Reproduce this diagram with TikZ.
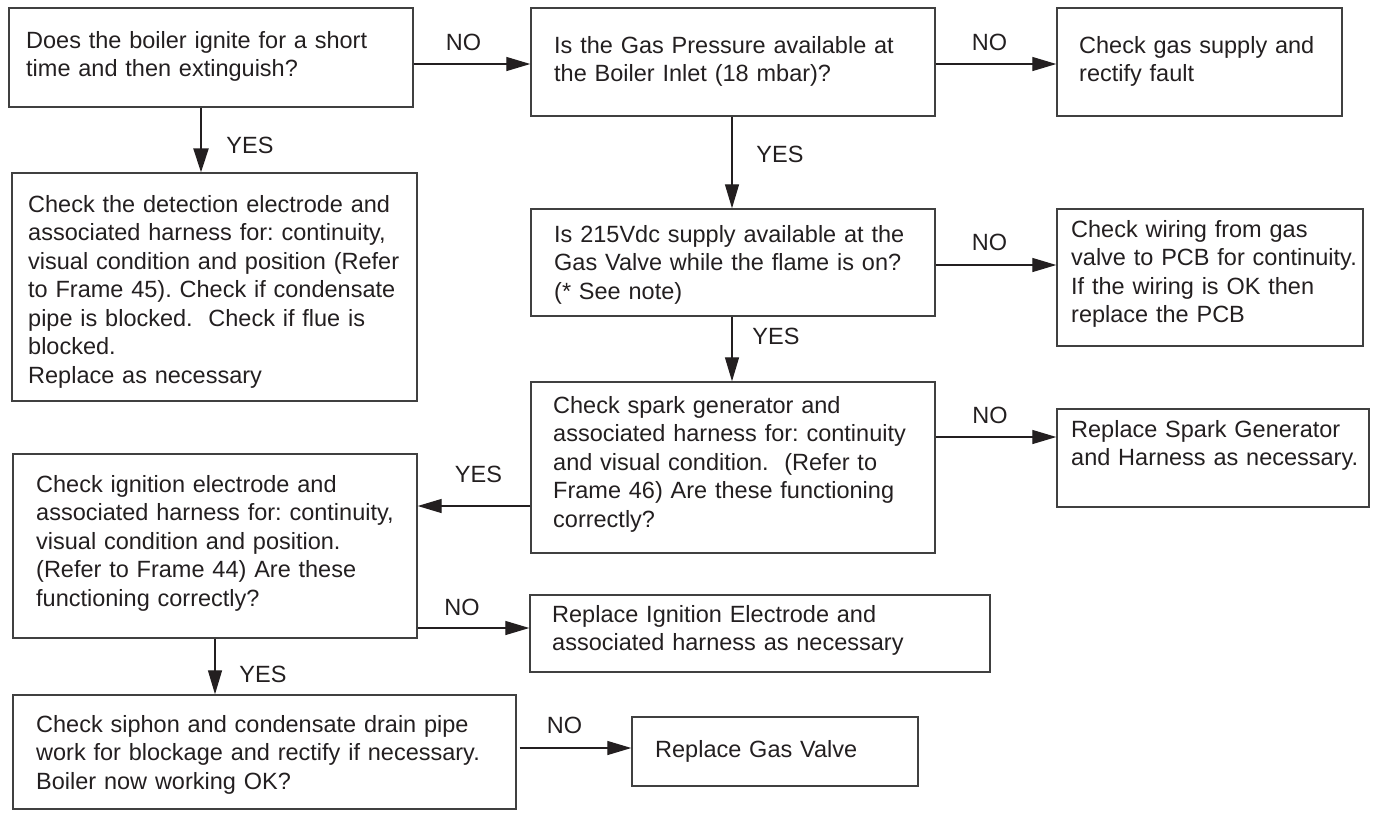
\documentclass[tikz,border=0pt]{standalone}
\usepackage{fontspec}
\setmainfont{Liberation Sans}
\usetikzlibrary{arrows.meta}
\definecolor{ink}{RGB}{35,31,32}
\definecolor{edge}{RGB}{64,64,64}
\begin{document}
\begin{tikzpicture}[x=1pt,y=-1pt,
  box/.style={draw=edge,line width=1.4pt,rectangle,inner sep=0pt},
  txt/.style={anchor=base west,inner sep=0pt,text width=520pt,align=left,text=ink,
    font=\fontsize{23.5}{28.5}\selectfont\frenchspacing},
  lab/.style={anchor=base,inner sep=0pt,text=ink,font=\fontsize{23.5}{28}\selectfont},
  arr/.style={draw=ink,line width=1.3pt,-{Triangle[length=24pt,width=14pt]}},
  thickarr/.style={draw=ink,line width=2.6pt,-{Triangle[length=24pt,width=15pt]}}]
\useasboundingbox (0,0) rectangle (1376,812);
% boxes
\node[box,minimum width=404pt,minimum height=99pt]  (A) at (211,57.5) {};
\node[box,minimum width=404pt,minimum height=108pt] (B) at (733,62) {};
\node[box,minimum width=285pt,minimum height=108pt] (C) at (1199.5,62) {};
\node[box,minimum width=405pt,minimum height=228pt] (D) at (214.5,287) {};
\node[box,minimum width=404pt,minimum height=107pt] (E) at (733,262.5) {};
\node[box,minimum width=306pt,minimum height=137pt] (F) at (1210,277.5) {};
\node[box,minimum width=404pt,minimum height=171pt] (G) at (733,467.5) {};
\node[box,minimum width=404pt,minimum height=184pt] (H) at (215,546) {};
\node[box,minimum width=312pt,minimum height=98pt]  (I) at (1213,458) {};
\node[box,minimum width=460pt,minimum height=77pt]  (J) at (760,633.5) {};
\node[box,minimum width=503pt,minimum height=114pt] (K) at (264.5,752) {};
\node[box,minimum width=286pt,minimum height=69pt]  (L) at (775,751.5) {};
% texts
\node[txt] (tA) at (26,48) {Does the boiler ignite for a short\\time and then extinguish?};
\node[txt] (tB) at (554,53) {Is the Gas Pressure available at\\the Boiler Inlet (18 mbar)?};
\node[txt] (tC) at (1079,53) {Check gas supply and\\rectify fault};
\node[txt] (tD) at (28,212) {Check the detection electrode and\\associated harness for: continuity,\\visual condition and position (Refer\\to Frame 45). Check if condensate\\pipe is blocked.~ Check if flue is\\blocked.\\Replace as necessary};
\node[txt] (tE) at (554,242) {Is 215Vdc supply available at the\\Gas Valve while the flame is on?\\(* See note)};
\node[txt] (tF) at (1071,237) {Check wiring from gas\\valve to PCB for continuity.\\If the wiring is OK then\\replace the PCB};
\node[txt] (tG) at (553,413) {Check spark generator and\\associated harness for: continuity\\and visual condition.~ (Refer to\\Frame 46) Are these functioning\\correctly?};
\node[txt] (tH) at (36,492) {Check ignition electrode and\\associated harness for: continuity,\\visual condition and position.\\(Refer to Frame 44) Are these\\functioning correctly?};
\node[txt] (tI) at (1071,437) {Replace Spark Generator\\and Harness as necessary.};
\node[txt] (tJ) at (552,622) {Replace Ignition Electrode and\\associated harness as necessary};
\node[txt] (tK) at (36,732) {Check siphon and condensate drain pipe\\work for blockage and rectify if necessary.\\Boiler now working OK?};
\node[txt] (tL) at (655,757) {Replace Gas Valve};
% connectors
\draw[thickarr] (A.south -| 201,0) -- (D.north -| 201,0);
\draw[arr] (A.east |- 0,64) -- (B.west |- 0,64);
\draw[arr] (B.east |- 0,64) -- (C.west |- 0,64);
\draw[arr] (B.south -| 732,0) -- (E.north -| 732,0);
\draw[arr] (E.east |- 0,265) -- (F.west |- 0,265);
\draw[arr] (E.south -| 732,0) -- (G.north -| 732,0);
\draw[arr] (G.west |- 0,506) -- (H.east |- 0,506);
\draw[arr] (G.east |- 0,437) -- (I.west |- 0,437);
\draw[arr] (H.east |- 0,628) -- (J.west |- 0,628);
\draw[arr] (H.south) -- (H.south |- K.north);
\draw[arr] ([xshift=3pt]K.east |- 0,748) -- (L.west |- 0,748);
% labels
\node[lab] (l1) at (463.5,50) {NO};
\node[lab] (l2) at (989.5,50) {NO};
\node[lab] (l3) at (250,153) {YES};
\node[lab] (l4) at (780,162) {YES};
\node[lab] (l5) at (989.5,250) {NO};
\node[lab] (l6) at (776,344) {YES};
\node[lab] (l7) at (990,423) {NO};
\node[lab] (l8) at (478.5,482) {YES};
\node[lab] (l9) at (462,615) {NO};
\node[lab] (l10) at (263,682) {YES};
\node[lab] (l11) at (564.5,733) {NO};
\end{tikzpicture}
\end{document}
